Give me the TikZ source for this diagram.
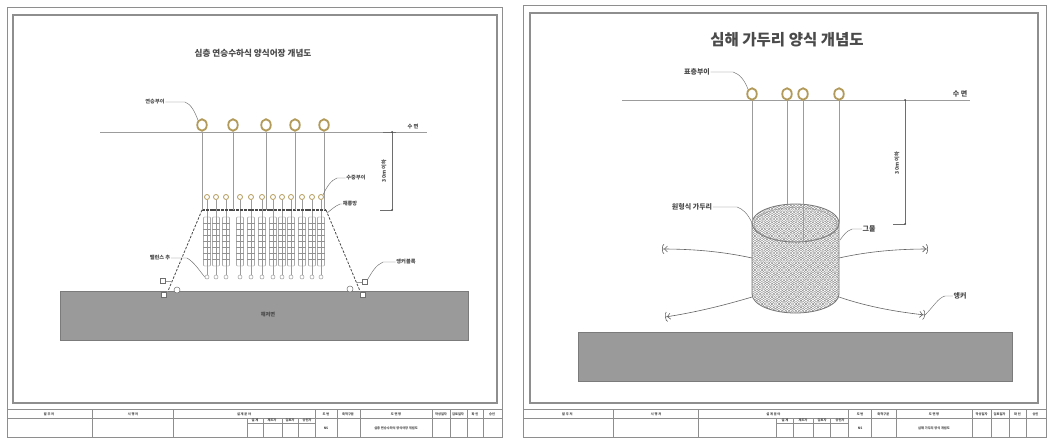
\documentclass[tikz,border=0pt]{standalone}
\usepackage{fontspec}
\newfontfamily\kr{Noto Sans CJK KR}
\usetikzlibrary{arrows.meta,shapes.geometric}
\definecolor{framec}{HTML}{8E8E8E}
\definecolor{rope}{HTML}{9C9C9C}
\definecolor{gold}{HTML}{B29A5A}
\definecolor{seabedc}{HTML}{9A9A9A}
\definecolor{ink}{HTML}{4A4A4A}
\definecolor{meshc}{HTML}{8A8A8A}
\tikzset{
  outerframe/.style={draw=framec,line width=0.9pt},
  innerframe/.style={draw=framec,line width=1.6pt},
  tbl/.style={draw=framec,line width=0.5pt},
  tbtext/.style={font=\kr\fontsize{3.2}{3.2}\selectfont\bfseries,text=ink,inner sep=0pt},
  ln/.style={draw=rope,line width=0.6pt},
  lead/.style={draw=ink!80,line width=0.45pt},
  smalllabel/.style={font=\kr\fontsize{5.2}{5.2}\selectfont\bfseries,text=ink,inner sep=0.5pt},
  biglabel/.style={font=\kr\fontsize{7}{7}\selectfont\bfseries,text=ink,inner sep=0.5pt},
  bigbuoy/.style={ellipse,draw=gold,line width=1.8pt,fill=white,minimum width=9.5pt,minimum height=11.5pt,inner sep=0pt},
  smbuoy/.style={circle,draw=gold,line width=0.8pt,fill=white,minimum size=5pt,inner sep=0pt},
  basket/.style={draw=ink!70,line width=0.45pt,fill=white,rounded corners=1pt},
  weightring/.style={circle,draw=rope,line width=0.5pt,fill=white,minimum size=4pt,inner sep=0pt},
  moorline/.style={draw=ink,line width=0.8pt,dash pattern=on 2.5pt off 1.5pt},
  anchorbox/.style={rectangle,draw=ink!80,line width=0.5pt,fill=white,minimum size=5pt,inner sep=0pt},
  anchorring/.style={circle,draw=ink!80,line width=0.5pt,fill=white,minimum size=6pt,inner sep=0pt},
  seabed/.style={rectangle,fill=seabedc,draw=seabedc!80!black,line width=0.4pt,inner sep=0pt},
  dimline/.style={draw=ink!80,line width=0.5pt},
  anchorline/.style={draw=ink!85,line width=0.6pt,-{Straight Barb[length=3pt,width=6pt]Arc Barb[length=2pt,width=10pt]}},
  meshring/.style={draw=meshc,line width=0.4pt},
  rim/.style={draw=ink!75,line width=0.8pt},
}
% drawing title block at the foot of a sheet: x shift, x scale, drawing name, prefix
\newcommand\tblock[4]{%
\begin{scope}[shift={(#1,0)},xscale=#2]
  \draw[tbl] (0,409.5) -- (495,409.5);
  \draw[tbl] (0,418) -- (495,418);
  \draw[tbl] (240,423) -- (308,423);
  \foreach \x in {85,166,308,330,353,425,443,460,476}{\draw[tbl] (\x,409.5) -- (\x,437);}
  \foreach \x in {240,256,275,291}{\draw[tbl] (\x,418) -- (\x,437);}
  \foreach \x/\t in {42/발 주 처,126/시 행 처,237/설 계 분 야,319/도 번,341/축척구분,389/도 면 명,434/작성일자,451/검토일자,468/확 인,485/승인}
    {\node[tbtext] (#4h\x) at (\x,413.8) {\t};}
  \foreach \x/\t in {248/설 계,265/제도자,283/검토자,300/승인자}
    {\node[tbtext] (#4s\x) at (\x,420.6) {\t};}
  \node[tbtext] (#4no) at (319,428) {NS};
  \node[tbtext] (#4nm) at (389,428) {#3};
\end{scope}}
\begin{document}
\begin{tikzpicture}[x=1pt,y=-1pt]
\fill[white] (0,0) rectangle (1051,439);
\useasboundingbox (0,0) rectangle (1051,439);

% ================= sheet 1 : longline hanging culture =================
\draw[outerframe] (7,7) rectangle (502,437);
\draw[innerframe] (13,15) rectangle (497,403);
\tblock{7}{1}{심층 연승수하식 양식어장 개념도}{L}

\node[font=\kr\fontsize{8.6}{8.6}\selectfont\bfseries,text=ink] (ltitle) at (253,53) {심층 연승수하식 양식어장 개념도};

% sea bed
\node[seabed,minimum width=408pt,minimum height=49pt] (lsea) at (264,315.5) {};
\node[smalllabel] (lseat) at (268,315) {해저면};

% water surface
\coordinate (lw0) at (100,132);
\coordinate (lw1) at (427,132);
\draw[ln] (lw0) -- (lw1);
\node[smalllabel] (lwt) at (413,127) {수 면};

% mother line (bar) and mooring
\coordinate (lbarL) at (202,210);
\coordinate (lbarR) at (326,210);
\coordinate (lmoorL) at (168,291);
\coordinate (lmoorR) at (360,291);

% hanging baskets under the sub-surface buoys
\foreach \i/\x in {1/207,2/216,3/226,4/240,5/251,6/262,7/273,8/282,9/291,10/302,11/312,12/321}{
  \node[smbuoy] (ls\i) at (\x,197) {};
  \coordinate (lt\i) at (\x,210);
  \draw[ln] (ls\i.south) -- (lt\i);
  \draw[ln] (lt\i) -- (\x,217);
  \draw[basket] (\x-3.6,217) rectangle (\x+3.6,266);
  \foreach \y in {223,229,235,241,247,253,259}{\draw[draw=ink!60,line width=0.35pt] (\x-3.6,\y) -- (\x+3.6,\y);}
  \draw[draw=ink!60,line width=0.35pt] (\x,217) -- (\x,266);
  \node[weightring] (lr\i) at (\x,277) {};
  \draw[ln] (\x,266) -- (lr\i.north);
}
\draw[draw=ink,line width=1.3pt,dash pattern=on 3pt off 0.8pt] (lbarL) -- (lbarR);

% surface buoys with down ropes
\foreach \i/\x in {1/202,2/233,3/266,4/295,5/324}{
  \node[bigbuoy] (lb\i) at (\x,125) {};
  \coordinate (lbe\i) at (\x,210);
  \draw[ln] (lb\i.south) -- (lbe\i);
}

% mooring lines and anchor blocks
\draw[moorline] (lbarL) -- (lmoorL);
\draw[moorline] (lbarR) -- (lmoorR);
\node[anchorbox] (laL1) at (163,281) {};
\node[anchorbox] (laL2) at (164,295) {};
\node[anchorring] (laL3) at (177,290) {};
\draw[ln] (laL1.east) -- (172,281);
\draw[ln] (lmoorL) -- (laL2.north east);
\node[anchorbox] (laR1) at (365,282) {};
\node[anchorbox] (laR2) at (363,295) {};
\node[anchorring] (laR3) at (350,289) {};
\draw[ln] (laR1.west) -- (356,282);
\draw[ln] (lmoorR) -- (laR2.north west);

% depth dimension
\coordinate (ldT) at (392,132);
\coordinate (ldB) at (392,210);
\draw[dimline] (ldT) -- (ldB);
\draw[dimline] (380,210) -- (ldB);
\draw[dimline] (383,132) -- (396,132);
\fill[ink] (ldT) circle[radius=1pt];
\fill[ink] (ldB) circle[radius=1pt];
\node[smalllabel,rotate=90] (ldt) at (384,171) {30m 이하};

% labels with leaders
\node[smalllabel] (llA) at (155,102) {연승부이};
\draw[lead] (llA.east) -- (185,102) .. controls (191,104) and (195,112) .. (lb1.north west);
\node[smalllabel] (llB) at (356,178) {수중부이};
\draw[lead] (llB.west) -- (337,178) .. controls (331,180) and (326,188) .. (ls12.north east);
\node[smalllabel] (llC) at (350,204) {채롱망};
\draw[lead] (llC.west) -- (340,204) .. controls (335,206) and (331,210) .. (327,213);
\node[smalllabel] (llD) at (160,258) {밸런스 추};
\draw[lead] (llD.east) -- (187,258) .. controls (194,262) and (199,270) .. (lr1.west);
\node[smalllabel] (llE) at (406,262) {앵커블록};
\draw[lead] (llE.west) -- (383,262) .. controls (376,265) and (372,272) .. (laR1.north east);

% ================= sheet 2 : deep-sea cage =================
\draw[outerframe] (523,5) rectangle (1046,437);
\draw[innerframe] (530,13) rectangle (1038,403);
\tblock{523}{1.0566}{심해 가두리 양식 개념도}{R}

\node[font=\kr\fontsize{15.5}{15.5}\selectfont\bfseries,text=ink] (rtitle) at (787,40) {심해 가두리 양식 개념도};

% sea bed
\node[seabed,minimum width=434pt,minimum height=49pt] (rsea) at (795,356.5) {};

% water surface
\coordinate (rw0) at (622,100);
\coordinate (rw1) at (970,100);
\draw[ln] (rw0) -- (rw1);
\node[biglabel] (rwt) at (960,94) {수 면};

% cage net (mesh cylinder)
\begin{scope}
  \clip (752,223) -- (752,294) arc[start angle=180,end angle=0,x radius=43.5,y radius=19]
        -- (839,223) arc[start angle=0,end angle=-180,x radius=43.5,y radius=19] -- cycle;
  \foreach \r in {0,...,34}{
    \pgfmathsetmacro\yy{202+3.4*\r}
    \pgfmathsetmacro\off{mod(\r,2)*1.7}
    \foreach \c in {0,...,27}{
      \draw[meshring] (750+\off+3.4*\c,\yy) circle[radius=1.6pt];
    }
  }
\end{scope}
\draw[rim] (795.5,223) ellipse[x radius=43.5,y radius=19];
\draw[draw=ink!60,line width=0.4pt] (795.5,224.5) ellipse[x radius=41.5,y radius=17];
\draw[rim] (752,223) -- (752,294) arc[start angle=180,end angle=0,x radius=43.5,y radius=19] -- (839,223);
\coordinate (cL) at (752,223);
\coordinate (cR) at (839,223);
\coordinate (cBk) at (787,204.4);
\coordinate (cFr) at (803,241.7);

% surface buoys with down ropes
\node[bigbuoy] (rb1) at (752,94) {};
\node[bigbuoy] (rb2) at (787,94) {};
\node[bigbuoy] (rb3) at (803,94) {};
\node[bigbuoy] (rb4) at (839,94) {};
\draw[ln] (rb1.south) -- (cL);
\draw[ln] (rb2.south) -- (cBk);
\draw[ln] (rb3.south) -- (cFr);
\draw[ln] (rb4.south) -- (cR);

% anchor ropes
\coordinate (ca1) at (752,258);
\coordinate (ca2) at (839,258);
\coordinate (ca3) at (752,297);
\coordinate (ca4) at (839,297);
\coordinate (an1) at (662,249);
\coordinate (an2) at (928,249);
\coordinate (an3) at (665,317);
\coordinate (an4) at (925,315);
\draw[anchorline] (ca1) .. controls (720,251) and (690,249) .. (an1);
\draw[anchorline] (ca2) .. controls (870,251) and (900,249) .. (an2);
\draw[anchorline] (ca3) .. controls (722,306) and (692,313) .. (an3);
\draw[anchorline] (ca4) .. controls (868,307) and (898,312) .. (an4);

% depth dimension
\coordinate (rdT) at (905,100);
\coordinate (rdB) at (905,224);
\draw[dimline] (rdT) -- (rdB);
\draw[dimline] (893,224) -- (rdB);
\fill[ink] (rdT) circle[radius=1pt];
\fill[ink] (rdB) circle[radius=1pt];
\node[smalllabel,rotate=90] (rdt) at (897,163) {30m 이하};

% labels with leaders
\node[biglabel] (rlA) at (697,72) {표층부이};
\draw[lead] (rlA.east) -- (733,72) .. controls (740,74) and (745,81) .. (rb1.north west);
\node[biglabel] (rlB) at (692,207) {원형식 가두리};
\draw[lead] (rlB.east) -- (737,207) .. controls (743,209) and (748,214) .. (cL);
\node[biglabel] (rlC) at (869,229) {그물};
\draw[lead] (rlC.west) -- (852,229) .. controls (846,231) and (843,236) .. (840,240);
\node[biglabel] (rlD) at (960,296) {앵커};
\draw[lead] (rlD.west) -- (945,296) .. controls (938,298) and (934,306) .. (an4);
\end{tikzpicture}
\end{document}
